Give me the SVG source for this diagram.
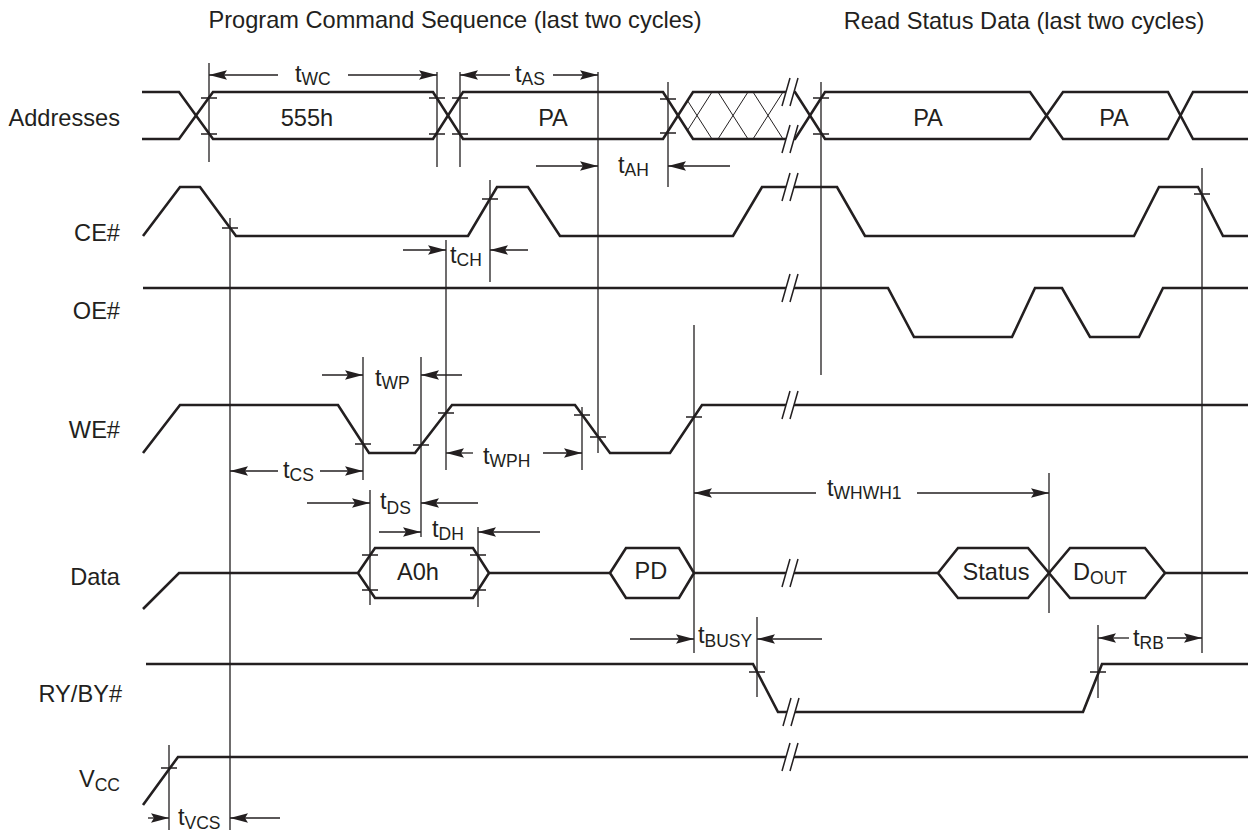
<svg xmlns="http://www.w3.org/2000/svg" xmlns:xlink="http://www.w3.org/1999/xlink" width="1252" height="836" viewBox="0 0 1252 836">
<style>
.sig{fill:none;stroke:#231f20;stroke-width:2.6;stroke-linejoin:miter}
.thin{fill:none;stroke:#231f20;stroke-width:1.3}
.hat{fill:none;stroke:#231f20;stroke-width:1}
.arr{fill:none;stroke:#231f20;stroke-width:1.3;marker-end:url(#ah)}
text{font-family:"Liberation Sans",Arial,Helvetica,sans-serif;font-size:23.6px;fill:#231f20}
.lbl{text-anchor:end}
.mid{text-anchor:middle}
.s{font-size:17.5px}
</style>
<defs>
<marker id="ah" viewBox="-20 -6 21 12" refX="0" refY="0" markerWidth="21" markerHeight="12" markerUnits="userSpaceOnUse" orient="auto">
<path d="M0,0 L-18,-4.8 L-15,0 L-18,4.8 Z" fill="#231f20"/>
</marker>
<g id="brk">
<polygon points="-8,14 0,-14 8,-14 0,14" fill="#fff"/>
<path d="M-8,14 L0,-14 M0,14 L8,-14" fill="none" stroke="#231f20" stroke-width="1.5"/>
</g>
<clipPath id="hclip"><polygon points="678,116 693,92 790,92 790,139 693,139"/></clipPath>
</defs>
<rect width="1252" height="836" fill="#fff"/>

<g id="titles">
<text class="mid" x="455" y="28">Program Command Sequence (last two cycles)</text>
<text class="mid" x="1024" y="29">Read Status Data (last two cycles)</text>
</g>

<g id="addresses">
<text class="lbl" x="120" y="126">Addresses</text>
<path class="sig" d="M142,92 H179 L213,139 H433 L463,92 H663 L693,139 H795 L825,92 H1030 L1063,139 H1168 L1193,92 H1248"/>
<path class="sig" d="M142,139 H179 L213,92 H433 L463,139 H663 L693,92 H795 L825,139 H1030 L1063,92 H1168 L1193,139 H1248"/>
<g clip-path="url(#hclip)">
<path class="hat" d="M682,92 L712,139 M682,139 L712,92 M718,92 L748,139 M718,139 L748,92 M753,92 L783,139 M753,139 L783,92 M788,92 L818,139 M788,139 L818,92"/>
</g>
<text class="mid" x="307" y="126">555h</text>
<text class="mid" x="553" y="126">PA</text>
<text class="mid" x="928" y="126">PA</text>
<text class="mid" x="1114" y="126">PA</text>
</g>

<g id="ce">
<text class="lbl" x="120" y="241">CE#</text>
<path class="sig" d="M143,236 L180,187 H200 L236,236 H468 L497,187 H528 L560,236 H733 L762,187 H837 L865,236 H1134 L1159,187 H1198 L1223,236 H1248"/>
</g>

<g id="oe">
<text class="lbl" x="120" y="319">OE#</text>
<path class="sig" d="M143,288 H888 L914,337 H1012 L1035,288 H1062 L1090,337 H1139 L1163,288 H1248"/>
</g>

<g id="we">
<text class="lbl" x="120" y="438">WE#</text>
<path class="sig" d="M143,453 L180,405 H338 L369,453 H415 L452,405 H575 L610,453 H670 L702,405 H1248"/>
</g>

<g id="data">
<text class="lbl" x="120" y="585">Data</text>
<path class="sig" d="M143,609 L179,573 H358 M489,573 H610 M694,573 H938 M1165,573 H1248"/>
<path class="sig" d="M358,573 L375,548 H473 L489,573 L473,598 H375 Z"/>
<path class="sig" d="M610,573 L626,548 H679 L694,573 L679,598 H626 Z"/>
<path class="sig" d="M938,573 L958,548 H1028 L1049,573 L1028,598 H958 Z"/>
<path class="sig" d="M1049,573 L1070,548 H1145 L1165,573 L1145,598 H1070 Z"/>
<text class="mid" x="418" y="580">A0h</text>
<text class="mid" x="651" y="579">PD</text>
<text class="mid" x="996" y="580">Status</text>
<text x="1073" y="580">D<tspan class="s" dy="4">OUT</tspan></text>
</g>

<g id="ryby">
<text class="lbl" x="122" y="702">RY/BY#</text>
<path class="sig" d="M146,664 H753 L778,712 H1083 L1102,664 H1248"/>
</g>

<g id="vcc">
<text class="lbl" x="120" y="787">V<tspan class="s" dy="4">CC</tspan></text>
<path class="sig" d="M143,805 L178,757 H1248"/>
</g>

<g id="breaks">
<use xlink:href="#brk" x="790" y="92"/>
<use xlink:href="#brk" x="790" y="139"/>
<use xlink:href="#brk" x="790" y="187"/>
<use xlink:href="#brk" x="790" y="288"/>
<use xlink:href="#brk" x="790" y="405"/>
<use xlink:href="#brk" x="790" y="573"/>
<use xlink:href="#brk" x="791" y="712"/>
<use xlink:href="#brk" x="790" y="757"/>
</g>

<g id="connectors">
<path class="thin" d="M209,63 V162 M437,72 V167 M460,72 V167 M598,72 V453 M668,82 V187 M821,82 V375 M230,218 V830 M490,180 V282 M446,240 V470 M363,357 V480 M421,357 V537 M370,490 V605 M478,527 V607 M582,407 V470 M694,325 V653 M1049,473 V613 M1202,168 V653 M757,617 V697 M1098,625 V698 M169,745 V830"/>
<path class="thin" d="M201,98 h16 M201,134 h16 M429,98 h16 M429,134 h16 M452,98 h16 M452,134 h16 M660,99 h16 M660,133 h16 M813,98 h16 M813,134 h16 M222,228 h16 M482,199 h16 M1194,194 h16 M355,444 h16 M413,445 h16 M438,413 h16 M574,415 h16 M590,437 h16 M686,417 h16 M362,555 h16 M362,590 h16 M470,555 h16 M470,590 h16 M749,672 h16 M1090,672 h16 M161,768 h16"/>
<path class="arr" d="M278,75 H209"/><path class="arr" d="M348,75 H437"/>
<path class="arr" d="M510,75 H460"/><path class="arr" d="M553,75 H598"/>
<path class="arr" d="M536,166 H598"/><path class="arr" d="M730,166 H668"/>
<path class="arr" d="M403,250 H446"/><path class="arr" d="M528,250 H490"/>
<path class="arr" d="M322,375 H363"/><path class="arr" d="M462,375 H421"/>
<path class="arr" d="M278,471 H230"/><path class="arr" d="M320,471 H363"/>
<path class="arr" d="M473,453 H446"/><path class="arr" d="M543,453 H582"/>
<path class="arr" d="M307,503 H370"/><path class="arr" d="M478,503 H421"/>
<path class="arr" d="M379,532 H421"/><path class="arr" d="M540,532 H478"/>
<path class="arr" d="M816,493 H694"/><path class="arr" d="M917,493 H1049"/>
<path class="arr" d="M630,639 H694"/><path class="arr" d="M822,639 H757"/>
<path class="arr" d="M1129,638 H1098"/><path class="arr" d="M1167,638 H1202"/>
<path class="arr" d="M148,818 H169"/><path class="arr" d="M280,818 H230"/>
</g>

<g id="timing-labels">
<text x="295" y="82">t<tspan class="s" dy="3">WC</tspan></text>
<text x="515" y="82">t<tspan class="s" dy="3">AS</tspan></text>
<text x="618" y="173">t<tspan class="s" dy="3">AH</tspan></text>
<text x="450" y="263">t<tspan class="s" dy="3">CH</tspan></text>
<text x="375" y="386">t<tspan class="s" dy="3">WP</tspan></text>
<text x="283" y="478">t<tspan class="s" dy="3">CS</tspan></text>
<text x="483" y="464">t<tspan class="s" dy="3">WPH</tspan></text>
<text x="380" y="509">t<tspan class="s" dy="5">DS</tspan></text>
<text x="432" y="537">t<tspan class="s" dy="3">DH</tspan></text>
<text x="827" y="496">t<tspan class="s" dy="3">WHWH1</tspan></text>
<text x="698" y="643">t<tspan class="s" dy="4">BUSY</tspan></text>
<text x="1133" y="646">t<tspan class="s" dy="3">RB</tspan></text>
<text x="178" y="825">t<tspan class="s" dy="4">VCS</tspan></text>
</g>
</svg>
